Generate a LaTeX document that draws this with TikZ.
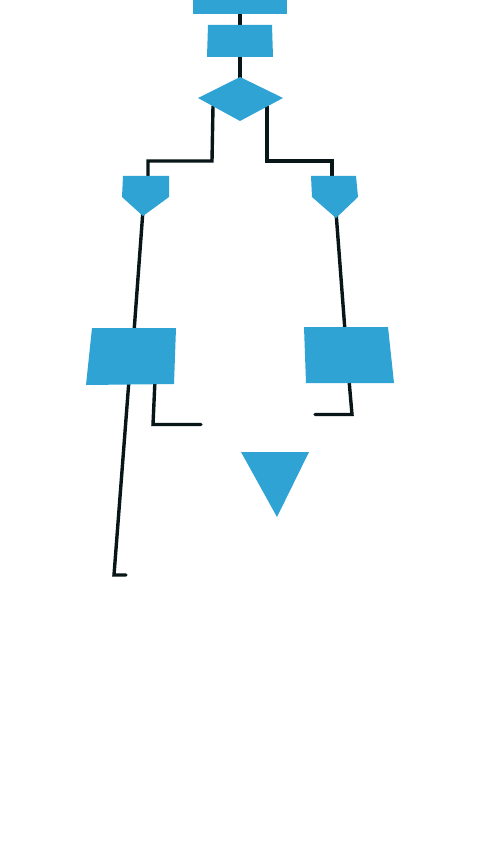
\documentclass[tikz,border=0pt]{standalone}
\definecolor{shapeblue}{RGB}{46,163,212}
\definecolor{linedark}{RGB}{8,22,24}
\tikzset{
  shp/.style={fill=shapeblue, draw=none},
  wire/.style={draw=linedark, line width=3.4pt, line join=miter, line cap=round},
}
\begin{document}
\begin{tikzpicture}[x=1pt,y=-1pt]
\useasboundingbox[fill=white] (0,0) rectangle (480,853);
% connectors (drawn first)
\coordinate (t1) at (240,10);
\coordinate (t2) at (240,30);
\coordinate (t3) at (240,52);
\coordinate (t4) at (240,82);
\draw[wire] (t1) -- (t2);
\draw[wire] (t3) -- (t4);
% left branch from diamond
\coordinate (dl) at (213,106);
\coordinate (ldown) at (212,161);
\coordinate (lleft) at (148,161);
\coordinate (lpt) at (148,180);
\draw[wire] (dl) -- (ldown) -- (lleft) -- (lpt);
% right branch
\coordinate (dr) at (267,106);
\coordinate (rdown) at (267,161);
\coordinate (rright) at (332,161);
\coordinate (rpt) at (332,180);
\draw[wire] (dr) -- (rdown) -- (rright) -- (rpt);
% pentagon to rect
\coordinate (lp) at (143,210);
\coordinate (lr) at (134,332);
\draw[wire] (lp) -- (lr);
\coordinate (rp) at (336,212);
\coordinate (rr) at (345,331);
\draw[wire] (rp) -- (rr);
% below left rect
\coordinate (la1) at (129,380);
\coordinate (la2) at (114,575);
\coordinate (la3) at (126,575);
\draw[wire] (la1) -- (la2) -- (la3);
\coordinate (lb1) at (155,380);
\coordinate (lb2) at (153,424.5);
\coordinate (lb3) at (201,424.5);
\draw[wire] (lb1) -- (lb2) -- (lb3);
% below right rect
\coordinate (rb1) at (349,380);
\coordinate (rb2) at (352,414.5);
\coordinate (rb3) at (315,414.5);
\draw[wire] (rb1) -- (rb2) -- (rb3);
% shapes
\fill[shp] (193,0) -- (287,0) -- (287,14) -- (193,14) -- cycle;
\fill[shp] (208,25) -- (272,25) -- (273,57) -- (207,57) -- cycle;
\fill[shp] (240,77) -- (283,98) -- (240,121) -- (198,98) -- cycle;
\fill[shp] (123,176) -- (169,176) -- (169,197) -- (143,216) -- (122,197) -- cycle;
\fill[shp] (311,176) -- (356,176) -- (358,197) -- (336,218) -- (312,197) -- cycle;
\fill[shp] (92,328) -- (176,328) -- (174,384) -- (86,385) -- cycle;
\fill[shp] (304,327) -- (388,327) -- (394,383) -- (306,383) -- cycle;
\fill[shp] (241,452) -- (309,452) -- (277,517) -- cycle;
\end{tikzpicture}
\end{document}
